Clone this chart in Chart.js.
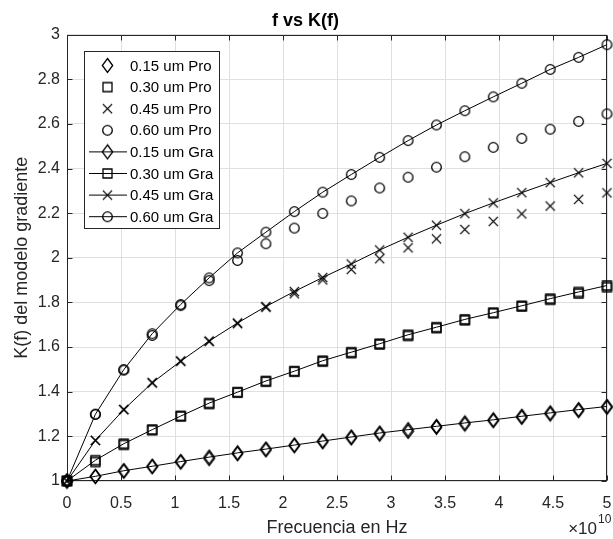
<!DOCTYPE html>
<html>
<head>
<meta charset="utf-8">
<title>f vs K(f)</title>
<script src="https://cdn.jsdelivr.net/npm/chart.js@4.4.1/dist/chart.umd.min.js"></script>
<style>
  html, body { margin: 0; padding: 0; background: #fff; }
  #wrap { width: 613px; height: 539px; }
</style>
</head>
<body>
<div id="wrap"><canvas id="kf" width="613" height="539"></canvas></div>
<script>
// frecuencias evaluadas (Hz)
const freqHz = [0, 2.63e9, 5.26e9, 7.89e9, 1.053e10, 1.316e10, 1.579e10, 1.842e10, 2.105e10, 2.368e10,
                2.632e10, 2.895e10, 3.158e10, 3.421e10, 3.684e10, 3.947e10, 4.211e10, 4.474e10, 4.737e10, 5e10];

// K(f) con perfil "Pro" (solo marcadores)
const kPro015 = [1.000, 1.020, 1.044, 1.064, 1.085, 1.100, 1.122, 1.140, 1.158, 1.176, 1.193, 1.210, 1.222, 1.240, 1.255, 1.270, 1.285, 1.300, 1.315, 1.330];
const kPro030 = [1.000, 1.085, 1.162, 1.228, 1.290, 1.345, 1.396, 1.445, 1.490, 1.535, 1.573, 1.612, 1.650, 1.685, 1.720, 1.752, 1.782, 1.812, 1.840, 1.868];
const kPro045 = [1.000, 1.182, 1.320, 1.440, 1.537, 1.625, 1.705, 1.778, 1.839, 1.901, 1.948, 1.996, 2.045, 2.085, 2.127, 2.163, 2.197, 2.232, 2.262, 2.291];
const kPro060 = [1.000, 1.299, 1.497, 1.652, 1.786, 1.898, 1.988, 2.063, 2.133, 2.199, 2.255, 2.313, 2.361, 2.406, 2.453, 2.495, 2.535, 2.576, 2.611, 2.645];

// K(f) con modelo gradiente "Gra" (linea + marcadores)
const kGra015 = [1.000, 1.021, 1.046, 1.066, 1.087, 1.107, 1.126, 1.143, 1.161, 1.179, 1.197, 1.215, 1.230, 1.245, 1.260, 1.274, 1.290, 1.305, 1.320, 1.334];
const kGra030 = [1.000, 1.093, 1.167, 1.230, 1.291, 1.349, 1.398, 1.448, 1.492, 1.539, 1.577, 1.615, 1.655, 1.689, 1.724, 1.754, 1.785, 1.817, 1.847, 1.876];
const kGra045 = [1.000, 1.182, 1.320, 1.440, 1.537, 1.627, 1.708, 1.782, 1.849, 1.912, 1.972, 2.035, 2.092, 2.146, 2.198, 2.246, 2.292, 2.337, 2.381, 2.423];
const kGra060 = [1.000, 1.299, 1.499, 1.660, 1.791, 1.910, 2.022, 2.115, 2.207, 2.294, 2.373, 2.450, 2.525, 2.595, 2.659, 2.721, 2.782, 2.844, 2.898, 2.955];

const seriesLabels = ['0.15 um Pro', '0.30 um Pro', '0.45 um Pro', '0.60 um Pro',
                      '0.15 um Gra', '0.30 um Gra', '0.45 um Gra', '0.60 um Gra'];

const xTickLabels = ['0', '0.5', '1', '1.5', '2', '2.5', '3', '3.5', '4', '4.5', '5'];
const yTickLabels = ['1', '1.2', '1.4', '1.6', '1.8', '2', '2.2', '2.4', '2.6', '2.8', '3'];

const INK = '#262626';
const FONT = "'Liberation Sans', Arial, Helvetica, sans-serif";

// marcadores estilo MATLAB dibujados en un canvas pequeño
function makeMarker(kind) {
    const c = document.createElement('canvas');
    const w = 13;
    const h = kind === 'diamond' ? 17 : 13;
    c.width = w; c.height = h;
    const g = c.getContext('2d');
    const cx = w / 2, cy = h / 2;
    g.strokeStyle = '#000';
    g.lineWidth = 1.3;
    g.beginPath();
    if (kind === 'circle') {
        g.arc(cx, cy, 4.8, 0, Math.PI * 2);
    } else if (kind === 'square') {
        g.rect(cx - 4.5, cy - 4.5, 9, 9);
    } else if (kind === 'cross') {
        g.moveTo(cx - 4.6, cy - 4.6); g.lineTo(cx + 4.6, cy + 4.6);
        g.moveTo(cx + 4.6, cy - 4.6); g.lineTo(cx - 4.6, cy + 4.6);
    } else {
        g.moveTo(cx, cy - 7); g.lineTo(cx + 5.2, cy); g.lineTo(cx, cy + 7); g.lineTo(cx - 5.2, cy); g.closePath();
    }
    g.stroke();
    return c;
}

const markers = [makeMarker('diamond'), makeMarker('square'), makeMarker('cross'), makeMarker('circle')];

function toPoints(ys) {
    return freqHz.map((f, i) => ({ x: f, y: ys[i] }));
}

function makeSet(label, ys, marker, withLine) {
    return {
        label: label,
        data: toPoints(ys),
        showLine: withLine,
        borderColor: '#000',
        borderWidth: 1,
        backgroundColor: 'transparent',
        pointStyle: marker,
        pointRadius: 5,
        pointHoverRadius: 5,
        tension: 0,
        clip: false
    };
}

const datasets = [
    makeSet(seriesLabels[0], kPro015, markers[0], false),
    makeSet(seriesLabels[1], kPro030, markers[1], false),
    makeSet(seriesLabels[2], kPro045, markers[2], false),
    makeSet(seriesLabels[3], kPro060, markers[3], false),
    makeSet(seriesLabels[4], kGra015, markers[0], true),
    makeSet(seriesLabels[5], kGra030, markers[1], true),
    makeSet(seriesLabels[6], kGra045, markers[2], true),
    makeSet(seriesLabels[7], kGra060, markers[3], true)
];

// caja de ejes con marcas hacia adentro
const axesBox = {
    id: 'axesBox',
    beforeDatasetsDraw(chart) {
        const { ctx, chartArea: a, scales } = chart;
        const L = Math.round(a.left) + 0.5, R = Math.round(a.right) - 0.5;
        const T = Math.round(a.top) + 0.5, B = Math.round(a.bottom) - 0.5;
        ctx.save();
        ctx.strokeStyle = INK;
        ctx.lineWidth = 1;
        ctx.beginPath();
        scales.x.ticks.forEach(t => {
            const px = Math.round(scales.x.getPixelForValue(t.value)) + 0.5;
            ctx.moveTo(px, B); ctx.lineTo(px, B - 5);
            ctx.moveTo(px, T); ctx.lineTo(px, T + 5);
        });
        scales.y.ticks.forEach(t => {
            const py = Math.round(scales.y.getPixelForValue(t.value)) + 0.5;
            ctx.moveTo(L, py); ctx.lineTo(L + 5, py);
            ctx.moveTo(R, py); ctx.lineTo(R - 5, py);
        });
        ctx.stroke();
        ctx.strokeRect(L, T, R - L, B - T);
        ctx.restore();
    }
};

// leyenda dentro del area y exponente del eje x
const boxLegend = {
    id: 'boxLegend',
    afterDraw(chart) {
        const ctx = chart.ctx;
        ctx.save();
        ctx.fillStyle = '#fff';
        ctx.fillRect(84, 51, 135, 177);
        ctx.strokeStyle = INK;
        ctx.lineWidth = 1;
        ctx.strokeRect(84.5, 51.5, 135, 177);
        ctx.font = '15px ' + FONT;
        ctx.textBaseline = 'middle';
        ctx.textAlign = 'left';
        chart.data.datasets.forEach((ds, i) => {
            const y = 65.5 + i * 21.6;
            if (ds.showLine) {
                ctx.strokeStyle = '#000';
                ctx.beginPath();
                ctx.moveTo(89, y); ctx.lineTo(127, y);
                ctx.stroke();
            }
            const m = ds.pointStyle;
            ctx.drawImage(m, 107.5 - m.width / 2, y - m.height / 2);
            ctx.fillStyle = '#000';
            ctx.fillText(ds.label, 130, y + 1);
        });

        ctx.fillStyle = INK;
        ctx.textBaseline = 'alphabetic';
        ctx.textAlign = 'right';
        ctx.font = '17px ' + FONT;
        ctx.fillText('\u00d710', 597, 534);
        ctx.textAlign = 'left';
        ctx.font = '12px ' + FONT;
        ctx.fillText('10', 598, 523);
        ctx.restore();
    }
};

new Chart(document.getElementById('kf'), {
    type: 'scatter',
    data: { datasets: datasets },
    options: {
        responsive: false,
        animation: false,
        devicePixelRatio: 1,
        events: [],
        layout: { padding: { left: 0, right: 2, top: 0, bottom: 0 } },
        plugins: {
            legend: { display: false },
            tooltip: { enabled: false },
            title: {
                display: true,
                text: 'f vs K(f)',
                color: '#000',
                font: { family: FONT, size: 18, weight: 'bold' },
                padding: { top: 10, bottom: 3 }
            }
        },
        scales: {
            x: {
                type: 'linear',
                min: 0,
                max: 5e10,
                afterFit(s) { s.height = 58; s.paddingLeft = 0; s.paddingRight = 0; },
                ticks: {
                    stepSize: 5e9,
                    autoSkip: false,
                    maxRotation: 0,
                    padding: 13,
                    color: INK,
                    font: { family: FONT, size: 16 },
                    callback: (v, i) => xTickLabels[i]
                },
                grid: { color: '#dfdfdf', drawTicks: false },
                border: { display: false },
                title: {
                    display: true,
                    text: 'Frecuencia en Hz',
                    color: INK,
                    font: { family: FONT, size: 18 },
                    padding: { top: 0, bottom: 0.5 }
                }
            },
            y: {
                type: 'linear',
                min: 1,
                max: 3,
                afterFit(s) { s.width = 67; s.paddingTop = 0; s.paddingBottom = 0; },
                ticks: {
                    stepSize: 0.2,
                    autoSkip: false,
                    padding: 7,
                    color: INK,
                    font: { family: FONT, size: 16 },
                    callback: (v, i) => yTickLabels[i]
                },
                grid: { color: '#dfdfdf', drawTicks: false },
                border: { display: false },
                title: {
                    display: true,
                    text: 'K(f) del modelo gradiente',
                    color: INK,
                    font: { family: FONT, size: 18 },
                    padding: { top: 11.4, bottom: 0 }
                }
            }
        }
    },
    plugins: [axesBox, boxLegend]
});
</script>
</body>
</html>
